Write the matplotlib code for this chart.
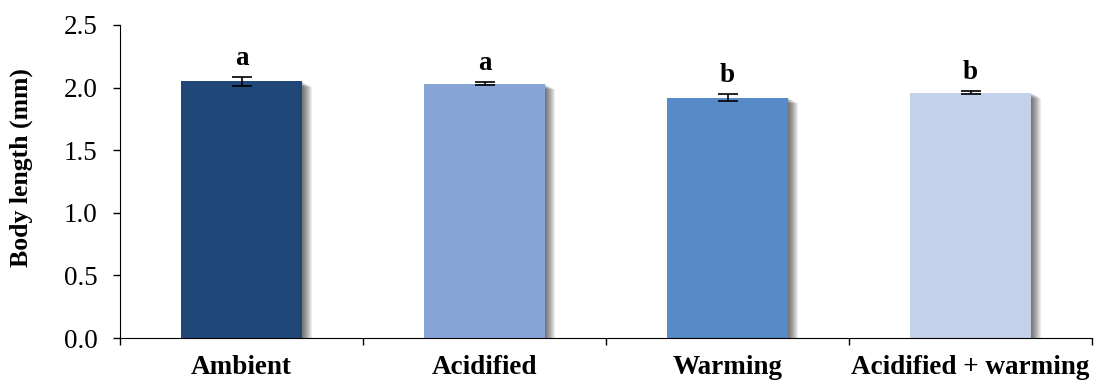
import numpy as np
import matplotlib
matplotlib.use('Agg')
import matplotlib.pyplot as plt
import matplotlib.patheffects as pe

# treatments and mean body length with standard error
treatments = ['Ambient', 'Acidified', 'Warming', 'Acidified + warming']
body_length = [2.05, 2.03, 1.92, 1.96]
std_err = [0.035, 0.012, 0.03, 0.01]
letters = ['a', 'a', 'b', 'b']
colors = ['#1F4778', '#87A5D6', '#5889C9', '#C3D1EA']

plt.rcParams['font.family'] = ['Liberation Serif', 'DejaVu Serif']

fig = plt.figure(figsize=(10.94, 3.81), dpi=100)
ax = fig.add_axes([120 / 1094, 43 / 381, 972 / 1094, 313 / 381])

x = np.arange(len(treatments))

# soft shadow: stack of faint offset copies, darkest next to the bar
shadow = [pe.SimplePatchShadow(offset=(0.72 * k, -0.4 * k), shadow_rgbFace='black', alpha=0.07)
          for k in range(10, 0, -1)]
shadow.append(pe.Normal())

bars = ax.bar(x, body_length, width=0.5, color=colors, zorder=2)
for b in bars:
    b.set_path_effects(shadow)

ax.errorbar(x, body_length, yerr=std_err, fmt='none', ecolor='black',
            elinewidth=1.2, capsize=7, capthick=1.2, zorder=3)

for xi, v, e, lab in zip(x, body_length, std_err, letters):
    ax.text(xi, v + e + 0.05, lab, ha='center', va='bottom',
            fontsize=19.5, fontweight='bold')

ax.set_xlim(-0.5, len(treatments) - 0.5)
ax.set_ylim(0, 2.5)
ax.set_yticks(np.arange(0, 2.51, 0.5))
ax.set_yticklabels(['{:.1f}'.format(t) for t in np.arange(0, 2.51, 0.5)], fontsize=19.5)

ax.set_xticks(np.arange(-0.5, len(treatments), 1.0))
ax.set_xticklabels([])
ax.set_xticks(x, minor=True)
ax.set_xticklabels(treatments, minor=True, fontsize=19.5, fontweight='bold')
ax.tick_params(axis='x', which='minor', length=0, pad=12)
ax.tick_params(axis='x', which='major', direction='out', length=5, width=1)
ax.tick_params(axis='y', direction='out', length=5, width=1, pad=11)

ax.set_ylabel('Body length (mm)', fontsize=18.5, fontweight='bold')
ax.yaxis.set_label_coords(-0.0895, 0.543)

for side in ['top', 'right']:
    ax.spines[side].set_visible(False)
ax.spines['left'].set_bounds(0, 2.5)

plt.savefig('out.png', dpi=100)
